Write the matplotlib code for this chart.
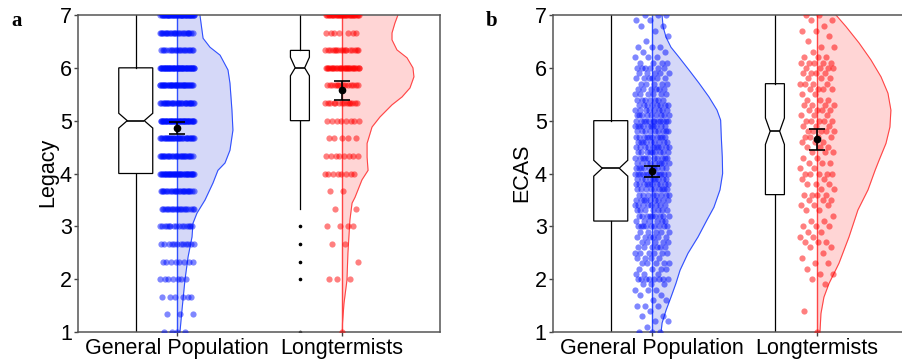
import numpy as np
import matplotlib
matplotlib.use("Agg")
import matplotlib.pyplot as plt

plt.rcParams['font.family'] = ['Liberation Sans', 'DejaVu Sans']

# ---- datos ----
groups = ["General Population", "Longtermists"]

# panel a: Legacy (escala en pasos de 1/3)
a_levels = [1, 4/3, 5/3, 2, 7/3, 8/3, 3, 10/3, 11/3, 4, 13/3, 14/3, 5, 16/3, 17/3, 6, 19/3, 20/3, 7]
a_gp_counts = [4, 3, 6, 7, 8, 12, 15, 20, 25, 40, 28, 32, 45, 30, 38, 50, 20, 25, 45]
a_lt_counts = [1, 0, 0, 3, 1, 2, 4, 2, 2, 8, 8, 5, 8, 14, 14, 28, 16, 7, 30]

# panel b: ECAS (pasos de 0.1)
b_levels = [round(1 + 0.1 * k, 1) for k in range(61)]
b_gp_counts = [3, 1, 2, 2, 1, 3, 2, 2, 3, 3,
               8, 3, 4, 5, 4, 6, 6, 5, 6, 5,
               9, 6, 9, 7, 8, 9, 8, 9, 10, 9,
               12, 10, 9, 10, 9, 10, 9, 10, 9, 10,
               12, 9, 8, 8, 7, 6, 6, 5, 6, 5,
               6, 4, 3, 2, 3, 1, 1, 1, 2, 2, 3]
b_lt_counts = [1, 0, 0, 0, 1, 0, 0, 0, 0, 1,
               1, 2, 1, 2, 1, 1, 2, 3, 2, 2,
               3, 2, 1, 2, 3, 3, 4, 2, 3, 2,
               5, 2, 3, 2, 3, 3, 3, 4, 5, 3,
               5, 3, 4, 4, 3, 2, 4, 4, 3, 4,
               4, 5, 3, 1, 2, 1, 1, 2, 1, 2, 2]

# perfiles de densidad (semi-violin): valor y, media anchura
a_gp_dens_y = [1.0, 1.41, 1.98, 2.42, 2.8, 3.06, 3.25, 3.5, 3.82, 4.06, 4.2, 4.44, 4.82, 5.2, 5.71, 5.96, 6.24, 6.39, 6.56, 7.0]
a_gp_dens_w = [.018, .030, .048, .067, .091, .097, .121, .170, .218, .248, .291, .321, .339, .333, .321, .309, .261, .200, .158, .139]
a_lt_dens_y = [1.0, 1.17, 1.54, 1.98, 2.5, 3.12, 3.44, 3.55, 3.88, 4.06, 4.31, 4.57, 4.88, 5.07, 5.3, 5.45, 5.62, 5.83, 6.0, 6.19, 6.34, 6.53, 6.66, 6.85, 7.0]
a_lt_dens_w = [.002, .003, .012, .030, .036, .048, .061, .079, .121, .158, .152, .152, .182, .230, .303, .364, .412, .436, .430, .394, .333, .303, .303, .321, .339]
b_gp_dens_y = [1.0, 1.17, 1.41, 1.66, 1.92, 2.17, 2.49, 2.8, 3.12, 3.36, 3.69, 4.0, 4.31, 4.69, 5.01, 5.2, 5.45, 5.71, 5.96, 6.2, 6.39, 6.58, 6.78, 7.0]
b_gp_dens_w = [.055, .061, .085, .115, .145, .170, .218, .279, .333, .375, .412, .428, .426, .420, .416, .394, .345, .285, .224, .164, .115, .085, .067, .061]
b_lt_dens_y = [1.0, 1.35, 1.66, 1.92, 2.3, 2.8, 3.31, 3.69, 4.06, 4.25, 4.57, 4.88, 5.2, 5.52, 5.83, 6.15, 6.47, 6.78, 7.0]
b_lt_dens_w = [.018, .024, .042, .073, .133, .194, .248, .309, .352, .376, .418, .442, .448, .430, .388, .327, .255, .176, .115]

# estadisticos de caja
a_box = [dict(whislo=1, q1=4, med=5, q3=6, whishi=7, cilo=4.86, cihi=5.14, fliers=[]),
         dict(whislo=3.33, q1=5, med=6, q3=6.33, whishi=7, cilo=5.85, cihi=6.2, fliers=[3, 2.67, 2.33, 2, 1])]
b_box = [dict(whislo=1, q1=3.1, med=4.1, q3=5.0, whishi=7, cilo=3.95, cihi=4.25, fliers=[]),
         dict(whislo=1, q1=3.6, med=4.8, q3=5.7, whishi=7, cilo=4.55, cihi=5.05, fliers=[])]

# media e IC
a_mean = [4.86, 5.58]; a_lo = [4.75, 5.40]; a_hi = [4.97, 5.76]
b_mean = [4.05, 4.65]; b_lo = [3.94, 4.45]; b_hi = [4.15, 4.84]

FILL = ['#d5d8f8', '#ffd5d5']
EDGE = ['#3050ff', '#ff4545']
PTS = ['#0010ff', '#ff0000']


def raincloud(ax, levels, counts_list, dens, boxes, means, los, his):
    for i in range(2):
        pos = i + 1
        # semi-violin
        dy, dw = dens[i]
        dy = np.array(dy); dw = np.array(dw)
        ax.fill_betweenx(dy, pos, pos + dw, color=FILL[i], lw=0, zorder=1)
        ax.plot(pos + dw, dy, color=EDGE[i], lw=0.8, zorder=2)
        ax.plot([pos, pos], [1, 7], color=EDGE[i], lw=1.0, zorder=2)
        # puntos con jitter determinista
        vals = np.repeat(levels, counts_list[i])
        k = np.arange(len(vals))
        jit = ((k * 0.618034 + 0.5) % 1.0 - 0.5) * 0.21
        ax.scatter(pos + jit, vals, s=20, color=PTS[i], alpha=0.5, lw=0, zorder=3)
    # cajas con muesca
    wid = [0.206, 0.115]
    ax.bxp(boxes, positions=[0.75, 1.745], widths=wid, shownotches=True,
           showcaps=False, patch_artist=True,
           boxprops=dict(facecolor='white', edgecolor='black', lw=0.9),
           whiskerprops=dict(color='black', lw=0.9),
           medianprops=dict(color='black', lw=1.2),
           flierprops=dict(marker='o', markersize=1.6, markerfacecolor='black',
                           markeredgecolor='black'),
           zorder=2)
    # media + IC
    m = np.array(means)
    yerr = [m - np.array(los), np.array(his) - m]
    ax.errorbar([1, 2], m, yerr=yerr, fmt='o', color='black', ms=4.5,
                capsize=5.5, elinewidth=1.2, capthick=1.2, zorder=5)

    ax.set_xlim(0.4, 2.594)
    ax.set_ylim(1, 7)
    ax.set_yticks([1, 2, 3, 4, 5, 6, 7])
    ax.set_xticks([1, 2])
    ax.set_xticklabels(groups)
    ax.tick_params(labelsize=15.5, length=3, width=1, color='#444444', pad=1.5)
    for s in ax.spines.values():
        s.set_color('#555555')
        s.set_linewidth(1.1)


fig = plt.figure(figsize=(9.02, 3.59), dpi=100)
ax_a = fig.add_axes([78 / 902, 27 / 359, 362 / 902, 317 / 359])
ax_b = fig.add_axes([553 / 902, 27 / 359, 362 / 902, 317 / 359])

raincloud(ax_a, a_levels, [a_gp_counts, a_lt_counts],
          [(a_gp_dens_y, a_gp_dens_w), (a_lt_dens_y, a_lt_dens_w)],
          a_box, a_mean, a_lo, a_hi)
raincloud(ax_b, b_levels, [b_gp_counts, b_lt_counts],
          [(b_gp_dens_y, b_gp_dens_w), (b_lt_dens_y, b_lt_dens_w)],
          b_box, b_mean, b_lo, b_hi)

fig.text(48 / 902, 0.52, 'Legacy', rotation=90, ha='center', va='center', fontsize=15.5)
fig.text(522 / 902, 0.52, 'ECAS', rotation=90, ha='center', va='center', fontsize=15.5)
fig.text(17 / 902, 1 - 21 / 359, 'a', ha='center', va='center', fontsize=15,
         fontweight='bold', family=['Liberation Serif', 'DejaVu Serif'])
fig.text(492 / 902, 1 - 21 / 359, 'b', ha='center', va='center', fontsize=15,
         fontweight='bold', family=['Liberation Serif', 'DejaVu Serif'])

fig.savefig('out.png', dpi=100)
